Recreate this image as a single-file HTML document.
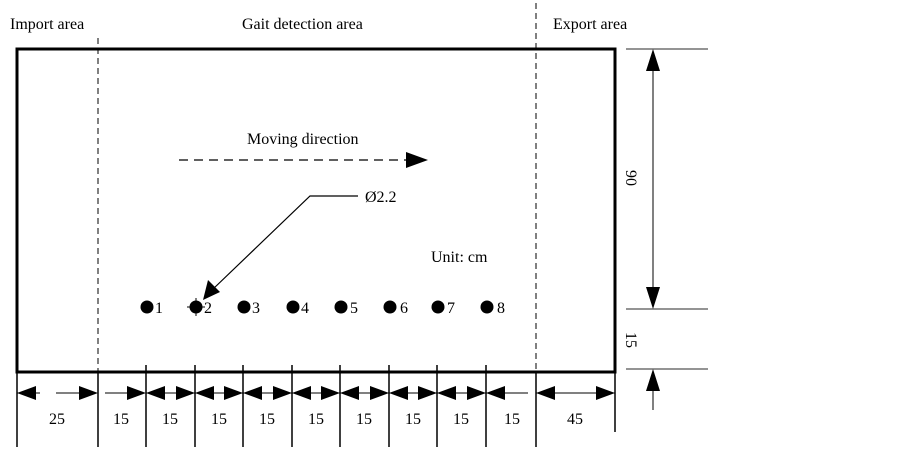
<!DOCTYPE html>
<html><head><meta charset="utf-8"><style>body{margin:0;background:#fff}svg{display:block}</style></head>
<body>
<svg width="902" height="452" viewBox="0 0 902 452" xmlns="http://www.w3.org/2000/svg" font-family="Liberation Serif, serif" font-size="16" fill="#000">
<text x="10" y="29">Import area</text>
<text x="242" y="29">Gait detection area</text>
<text x="553" y="29">Export area</text>
<rect x="17" y="49" width="598" height="323" fill="none" stroke="#000" stroke-width="3"/>
<line x1="98" y1="38" x2="98" y2="447" stroke="#000" stroke-dasharray="6,4"/>
<line x1="536" y1="3" x2="536" y2="447" stroke="#000" stroke-dasharray="6,4"/>
<line x1="98" y1="372" x2="98" y2="447" stroke="#000" stroke-width="1.5"/>
<line x1="536" y1="372" x2="536" y2="447" stroke="#000" stroke-width="1.5"/>
<line x1="17" y1="372" x2="17" y2="447" stroke="#000" stroke-width="1.5"/>
<line x1="615" y1="372" x2="615" y2="432" stroke="#000" stroke-width="1.5"/>
<g stroke="#000" stroke-width="1.5">
<line x1="146" y1="365" x2="146" y2="447"/><line x1="195" y1="365" x2="195" y2="447"/>
<line x1="243" y1="365" x2="243" y2="447"/><line x1="292" y1="365" x2="292" y2="447"/>
<line x1="340" y1="365" x2="340" y2="447"/><line x1="389" y1="365" x2="389" y2="447"/>
<line x1="437" y1="365" x2="437" y2="447"/><line x1="486" y1="365" x2="486" y2="447"/>
</g>
<g fill="#000">
<path d="M17,393l19,-7v14z M98,393l-19,-7v14z"/>
<path d="M146,393l-19,-7v14z"/>
<path d="M146,393l19,-7v14z M195,393l-19,-7v14z"/>
<path d="M195,393l19,-7v14z M243,393l-19,-7v14z"/>
<path d="M243,393l19,-7v14z M292,393l-19,-7v14z"/>
<path d="M292,393l19,-7v14z M340,393l-19,-7v14z"/>
<path d="M340,393l19,-7v14z M389,393l-19,-7v14z"/>
<path d="M389,393l19,-7v14z M437,393l-19,-7v14z"/>
<path d="M437,393l19,-7v14z M486,393l-19,-7v14z"/>
<path d="M486,393l19,-7v14z"/>
<path d="M536,393l19,-7v14z M615,393l-19,-7v14z"/>
</g>
<g stroke="#000" stroke-width="1">
<line x1="17" y1="393" x2="40" y2="393"/><line x1="56" y1="393" x2="80" y2="393"/>
<line x1="105" y1="393" x2="130" y2="393"/><line x1="146" y1="393" x2="486" y2="393"/>
<line x1="486" y1="393" x2="528" y2="393"/><line x1="536" y1="393" x2="615" y2="393"/>
</g>
<g text-anchor="middle">
<text x="57" y="424">25</text><text x="121" y="424">15</text><text x="170" y="424">15</text>
<text x="219" y="424">15</text><text x="267" y="424">15</text><text x="316" y="424">15</text>
<text x="364" y="424">15</text><text x="413" y="424">15</text><text x="461" y="424">15</text>
<text x="512" y="424">15</text><text x="575" y="424">45</text>
</g>
<g stroke="#555" stroke-width="1.2">
<line x1="626" y1="49" x2="708" y2="49"/><line x1="626" y1="309" x2="708" y2="309"/><line x1="626" y1="369" x2="708" y2="369"/>
</g>
<line x1="653" y1="52" x2="653" y2="306" stroke="#000"/>
<path d="M653,49l-7,22h14z M653,309l-7,-22h14z M653,369l-7,22h14z"/>
<line x1="653" y1="388" x2="653" y2="410" stroke="#000"/>
<text transform="translate(626,178) rotate(90)" text-anchor="middle">90</text>
<text transform="translate(626,340) rotate(90)" text-anchor="middle">15</text>
<text x="247" y="144">Moving direction</text>
<line x1="179" y1="160" x2="410" y2="160" stroke="#000" stroke-width="1.2" stroke-dasharray="9,6"/>
<path d="M428,160l-22,-8v16z"/>
<text x="365" y="202">Ø2.2</text>
<polyline points="358,196 310,196 212,290" fill="none" stroke="#000" stroke-width="1.2"/>
<path d="M203,300l5,-20l12,12z"/>
<text x="431" y="262">Unit: cm</text>
<g>
<circle cx="147" cy="307" r="6.5"/><text x="155" y="313">1</text>
<circle cx="196" cy="307" r="6.5"/><line x1="187" y1="307" x2="205" y2="307" stroke="#000"/><line x1="196" y1="298" x2="196" y2="316" stroke="#000"/><text x="204" y="313">2</text>
<circle cx="244" cy="307" r="6.5"/><text x="252" y="313">3</text>
<circle cx="293" cy="307" r="6.5"/><text x="301" y="313">4</text>
<circle cx="341" cy="307" r="6.5"/><text x="350" y="313">5</text>
<circle cx="390" cy="307" r="6.5"/><text x="400" y="313">6</text>
<circle cx="438" cy="307" r="6.5"/><text x="447" y="313">7</text>
<circle cx="487" cy="307" r="6.5"/><text x="497" y="313">8</text>
</g>
</svg>
</body></html>
